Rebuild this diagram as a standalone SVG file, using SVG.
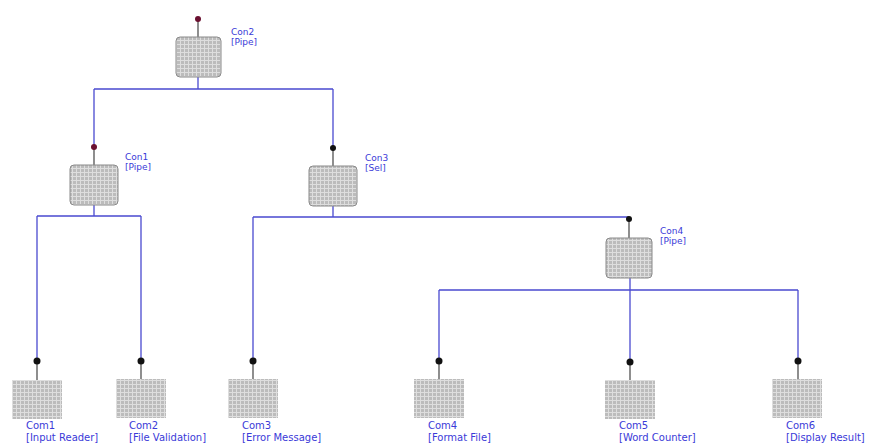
<svg xmlns="http://www.w3.org/2000/svg" width="871" height="448" viewBox="0 0 871 448">
<defs>
<pattern id="grid" width="4" height="4" patternUnits="userSpaceOnUse">
<rect width="4" height="4" fill="#bcbcbc"/>
<path d="M0 0.5H4M0.5 0V4" stroke="#dedede" stroke-width="1"/>
</pattern>
</defs>
<style>
.blue{stroke:#4a4ad0;stroke-width:1.3;fill:none}
.stem{stroke:#444;stroke-width:1.2}
.con{fill:url(#grid);stroke:#8a8a8a;stroke-width:1}
.com{fill:url(#grid);stroke:none}
.rd{fill:#6a1030}
.bk{fill:#111}
text{font-family:"DejaVu Sans",Verdana,sans-serif;font-size:10px;fill:#3a3ad8}
.cl{font-size:9px}
</style>
<rect width="871" height="448" fill="#fff"/>
<g id="connectors">
<path class="blue" d="M198 77V89M94 89H333M94 89V147M333 89V148"/>
<path class="blue" d="M94 205V216M37 216H141M37 216V361M141 216V361"/>
<path class="blue" d="M333 206V217M253 217H629M253 217V361"/>
<path class="blue" d="M630 278V290M439 290H798M439 290V361M630 290V362M798 290V361"/>
</g>
<g id="Con2">
<line class="stem" x1="198" y1="19" x2="198" y2="37"/>
<circle class="rd" cx="198" cy="19" r="3"/>
<rect class="con" x="176" y="37" width="45" height="40" rx="4"/>
<text class="cl" x="231" y="35">Con2</text><text class="cl" x="231" y="45">[Pipe]</text>
</g>
<g id="Con1">
<line class="stem" x1="94" y1="147" x2="94" y2="165"/>
<circle class="rd" cx="94" cy="147" r="3"/>
<rect class="con" x="70" y="165" width="48" height="40" rx="4"/>
<text class="cl" x="125" y="160">Con1</text><text class="cl" x="125" y="170">[Pipe]</text>
</g>
<g id="Con3">
<line class="stem" x1="333" y1="148" x2="333" y2="166"/>
<circle class="bk" cx="333" cy="148" r="3"/>
<rect class="con" x="309" y="166" width="48" height="40" rx="4"/>
<text class="cl" x="365" y="161">Con3</text><text class="cl" x="365" y="171">[Sel]</text>
</g>
<g id="Con4">
<line class="stem" x1="629" y1="219" x2="629" y2="238"/>
<circle class="bk" cx="629" cy="219" r="3"/>
<rect class="con" x="606" y="238" width="46" height="40" rx="4"/>
<text class="cl" x="660" y="234">Con4</text><text class="cl" x="660" y="244">[Pipe]</text>
</g>
<g id="Com1">
<line class="stem" x1="37" y1="361" x2="37" y2="380"/>
<circle class="bk" cx="37" cy="361" r="3.5"/>
<rect class="com" x="12" y="380" width="50" height="39"/>
<text x="26" y="429">Com1</text><text x="26" y="441">[Input Reader]</text>
</g>
<g id="Com2">
<line class="stem" x1="141" y1="361" x2="141" y2="379"/>
<circle class="bk" cx="141" cy="361" r="3.5"/>
<rect class="com" x="116" y="379" width="50" height="39"/>
<text x="129" y="429">Com2</text><text x="129" y="441">[File Validation]</text>
</g>
<g id="Com3">
<line class="stem" x1="253" y1="361" x2="253" y2="379"/>
<circle class="bk" cx="253" cy="361" r="3.5"/>
<rect class="com" x="228" y="379" width="50" height="39"/>
<text x="242" y="429">Com3</text><text x="242" y="441">[Error Message]</text>
</g>
<g id="Com4">
<line class="stem" x1="439" y1="361" x2="439" y2="379"/>
<circle class="bk" cx="439" cy="361" r="3.5"/>
<rect class="com" x="414" y="379" width="50" height="39"/>
<text x="428" y="429">Com4</text><text x="428" y="441">[Format File]</text>
</g>
<g id="Com5">
<line class="stem" x1="630" y1="362" x2="630" y2="380"/>
<circle class="bk" cx="630" cy="362" r="3.5"/>
<rect class="com" x="605" y="380" width="50" height="39"/>
<text x="619" y="429">Com5</text><text x="619" y="441">[Word Counter]</text>
</g>
<g id="Com6">
<line class="stem" x1="798" y1="361" x2="798" y2="379"/>
<circle class="bk" cx="798" cy="361" r="3.5"/>
<rect class="com" x="772" y="379" width="50" height="39"/>
<text x="786" y="429">Com6</text><text x="786" y="441">[Display Result]</text>
</g>
</svg>
